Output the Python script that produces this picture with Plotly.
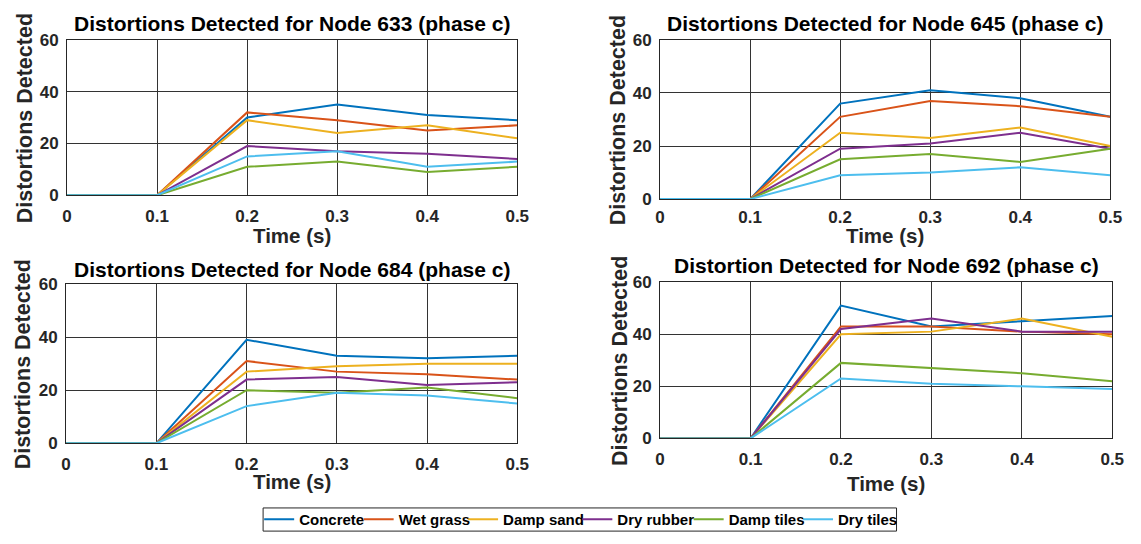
import plotly.graph_objects as go

W, H = 1141, 544

time_s = [0, 0.1, 0.2, 0.3, 0.4, 0.5]
materials = ["Concrete", "Wet grass", "Damp sand", "Dry rubber", "Damp tiles", "Dry tiles"]
colors = ["#0072BD", "#D95319", "#EDB120", "#7E2F8E", "#77AC30", "#4DBEEE"]

node633_concrete = [0, 0, 30, 35, 31, 29]
node633_wet_grass = [0, 0, 32, 29, 25, 27]
node633_damp_sand = [0, 0, 29, 24, 27, 22]
node633_dry_rubber = [0, 0, 19, 17, 16, 14]
node633_damp_tiles = [0, 0, 11, 13, 9, 11]
node633_dry_tiles = [0, 0, 15, 17, 11, 13]

node645_concrete = [0, 0, 36, 41, 38, 31]
node645_wet_grass = [0, 0, 31, 37, 35, 31]
node645_damp_sand = [0, 0, 25, 23, 27, 20]
node645_dry_rubber = [0, 0, 19, 21, 25, 19]
node645_damp_tiles = [0, 0, 15, 17, 14, 19]
node645_dry_tiles = [0, 0, 9, 10, 12, 9]

node684_concrete = [0, 0, 39, 33, 32, 33]
node684_wet_grass = [0, 0, 31, 27, 26, 24]
node684_damp_sand = [0, 0, 27, 29, 30, 30]
node684_dry_rubber = [0, 0, 24, 25, 22, 23]
node684_damp_tiles = [0, 0, 20, 19, 21, 17]
node684_dry_tiles = [0, 0, 14, 19, 18, 15]

node692_concrete = [0, 0, 51, 43, 45, 47]
node692_wet_grass = [0, 0, 43, 43, 41, 40]
node692_damp_sand = [0, 0, 40, 41, 46, 39]
node692_dry_rubber = [0, 0, 42, 46, 41, 41]
node692_damp_tiles = [0, 0, 29, 27, 25, 22]
node692_dry_tiles = [0, 0, 23, 21, 20, 19]

titles = [
    "Distortions Detected for Node 633 (phase c)",
    "Distortions Detected for Node 645 (phase c)",
    "Distortions Detected for Node 684 (phase c)",
    "Distortion Detected for Node 692 (phase c)",
]
x_ticks = [0, 0.1, 0.2, 0.3, 0.4, 0.5]
x_tick_text = ["0", "0.1", "0.2", "0.3", "0.4", "0.5"]
y_ticks = [0, 20, 40, 60]

panels = [
    [node633_concrete, node633_wet_grass, node633_damp_sand, node633_dry_rubber, node633_damp_tiles, node633_dry_tiles],
    [node645_concrete, node645_wet_grass, node645_damp_sand, node645_dry_rubber, node645_damp_tiles, node645_dry_tiles],
    [node684_concrete, node684_wet_grass, node684_damp_sand, node684_dry_rubber, node684_damp_tiles, node684_dry_tiles],
    [node692_concrete, node692_wet_grass, node692_damp_sand, node692_dry_rubber, node692_damp_tiles, node692_dry_tiles],
]

# layout (pixels): plot boxes (left, right, top, bottom)
boxes = [
    (63, 520, 32, 193),
    (665, 1122, 32, 197),
    (62, 520, 285, 450),
    (665, 1124, 283, 445),
]
title_y = [15, 15.5, 270, 266]
xlabel_y = [235, 235, 490, 492]
xtick_standoff = [5, 2, 5, 5]
ylabel_x = [20, 623, 18, 625]
# legend entry left edges (pixels) and legend frame
legend_x = [258, 359, 465, 581, 694, 805]
legend_frame = (262, 905, 517, 541)
legend_cy = 529

FONT = "Liberation Sans"
INK = "#262626"

fig = go.Figure()
annotations = []
layout_upd = {}
for i, (series, box) in enumerate(zip(panels, boxes)):
    l, r, t, b = box
    xa = "xaxis" if i == 0 else f"xaxis{i+1}"
    ya = "yaxis" if i == 0 else f"yaxis{i+1}"
    xref = "x" if i == 0 else f"x{i+1}"
    yref = "y" if i == 0 else f"y{i+1}"
    for k, (name, col, vals) in enumerate(zip(materials, colors, series)):
        fig.add_trace(go.Scatter(
            x=time_s, y=vals, mode="lines", name=name,
            line=dict(color=col, width=2),
            xaxis=xref, yaxis=yref, showlegend=(i == 0),
            legend="legend" if k == 0 else f"legend{k+1}",
        ))
    axis_common = dict(
        showline=True, linecolor=INK, linewidth=1, mirror=True,
        showgrid=True, gridcolor="#333333", gridwidth=1,
        zeroline=False, ticks="",
        tickfont=dict(family=FONT, size=17, color=INK, weight="bold"),
    )
    layout_upd[xa] = dict(axis_common, domain=[l / W, r / W], range=[0, 0.5],
                          tickvals=x_ticks, ticktext=x_tick_text, anchor=yref,
                          ticklabelstandoff=xtick_standoff[i])
    layout_upd[ya] = dict(axis_common, domain=[1 - b / H, 1 - t / H], range=[0, 60],
                          tickvals=y_ticks, anchor=xref, ticklabelstandoff=4)
    cx = (l + r) / 2
    annotations.append(dict(
        text=titles[i], x=cx / W, y=1 - title_y[i] / H, xref="paper", yref="paper",
        xanchor="center", yanchor="middle", showarrow=False,
        font=dict(family=FONT, size=21, color="#000000", weight="bold"),
    ))
    annotations.append(dict(
        text="Time (s)", x=cx / W, y=1 - xlabel_y[i] / H, xref="paper", yref="paper",
        xanchor="center", yanchor="middle", showarrow=False,
        font=dict(family=FONT, size=20.5, color=INK, weight="bold"),
    ))
    annotations.append(dict(
        text="Distortions Detected", x=ylabel_x[i] / W, y=1 - ((t + b) / 2 + 1) / H,
        xref="paper", yref="paper", textangle=-90,
        xanchor="center", yanchor="middle", showarrow=False,
        font=dict(family=FONT, size=21.5, color=INK, weight="bold"),
    ))

for k, lx in enumerate(legend_x):
    key = "legend" if k == 0 else f"legend{k+1}"
    layout_upd[key] = dict(
        orientation="h", x=lx / W, y=1 - legend_cy / H, xanchor="left", yanchor="middle",
        borderwidth=0, bgcolor="rgba(0,0,0,0)",
        font=dict(family=FONT, size=15, color="#000000", weight="bold"),
        itemwidth=30,
    )

fl, fr, ft, fb = legend_frame
fig.update_layout(
    width=W, height=H,
    margin=dict(l=0, r=0, t=0, b=0),
    paper_bgcolor="white", plot_bgcolor="white",
    annotations=annotations,
    showlegend=True,
    shapes=[dict(type="rect", xref="paper", yref="paper",
                 x0=fl / W, x1=fr / W, y0=1 - fb / H, y1=1 - ft / H,
                 line=dict(color=INK, width=1), fillcolor="rgba(0,0,0,0)", layer="above")],
    **layout_upd,
)

fig.write_html(
    "out.html",
    config={"displayModeBar": False},
    post_script="document.body.style.margin='0px';document.body.style.overflow='hidden';",
)
